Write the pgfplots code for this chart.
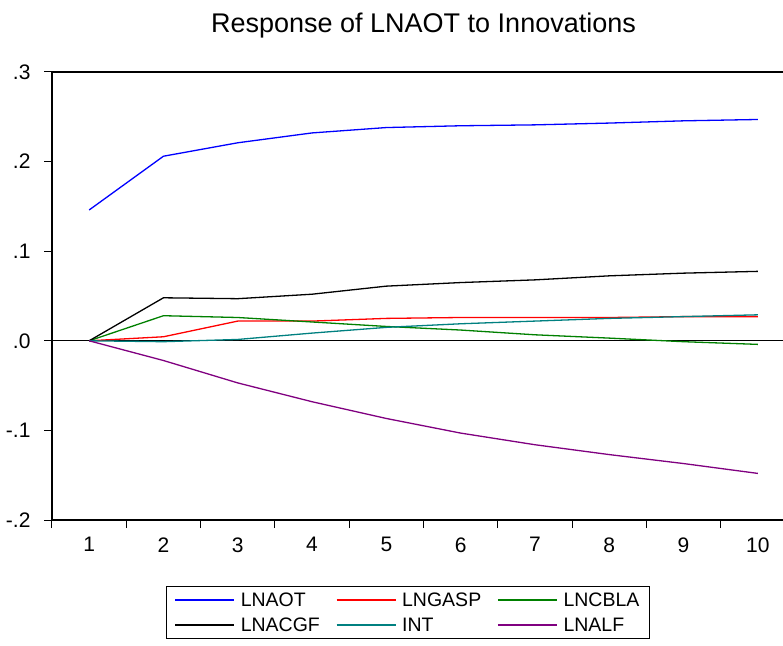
\documentclass[border=0pt]{standalone}
\usepackage{fontspec}
\setmainfont{Liberation Sans}
\usepackage{pgfplots}
\pgfplotsset{compat=1.18}
\definecolor{cblue}{RGB}{0,0,255}
\definecolor{cred}{RGB}{255,0,0}
\definecolor{cgreen}{RGB}{0,128,0}
\definecolor{cteal}{RGB}{0,128,128}
\definecolor{cpurple}{RGB}{128,0,128}
\begin{document}
\begin{tikzpicture}
\useasboundingbox (0,0) rectangle (783bp,646bp);
\clip (0,0) rectangle (783bp,646bp);
\begin{axis}[
  at={(52bp,126bp)}, anchor=south west,
  scale only axis, width=743bp, height=448bp,
  xmin=0.5, xmax=10.5, ymin=-0.2, ymax=0.3,
  axis line style={line width=1.1bp},
  tick align=outside, xtick pos=bottom, ytick pos=left,
  xtick={0.5,1.5,...,10.5}, xticklabels={},
  extra x ticks={1,2,...,10},
  extra x tick labels={1,2,3,4,5,6,7,8,9,10},
  extra x tick style={major tick length=0pt, tick style={draw=none}},
  xticklabel style={yshift=-14bp},
  major tick length=8bp,
  ytick={-0.2,-0.1,0,0.1,0.2,0.3},
  yticklabels={-.2,-.1,.0,.1,.2,.3},
  yticklabel style={xshift=-10bp},
  tick style={line width=1bp, black},
  ticklabel style={font=\fontsize{21bp}{24bp}\selectfont},
  /pgf/number format/assume math mode=true,
  title={Response of LNAOT to Innovations},
  title style={font=\fontsize{27bp}{30bp}\selectfont, yshift=24bp},
  legend columns=3,
  legend cell align=left,
  legend style={at={(0.1534,-0.1473)}, anchor=north west, draw=black, line width=1bp,
    font=\fontsize{19.5bp}{22bp}\selectfont, inner xsep=8bp, inner ysep=4bp,
    row sep=6bp,
    /tikz/every odd column/.append style={column sep=4bp},
    /tikz/every even column/.append style={column sep=14bp}},
  legend image code/.code={\draw[#1, line width=1.3bp] (0bp,0bp) -- (59bp,0bp);},
  every axis plot/.append style={line width=1.3bp},
]
\addplot[black, line width=1bp, forget plot] coordinates {(0.5,0) (10.5,0)};
\addplot[cblue] coordinates {(1,0.146) (2,0.206) (3,0.221) (4,0.232) (5,0.238) (6,0.240) (7,0.241) (8,0.243) (9,0.2455) (10,0.247)};
\addlegendentry{LNAOT}
\addplot[cred] coordinates {(1,0) (2,0.0045) (3,0.022) (4,0.022) (5,0.025) (6,0.026) (7,0.026) (8,0.026) (9,0.027) (10,0.027)};
\addlegendentry{LNGASP}
\addplot[cgreen] coordinates {(1,0) (2,0.028) (3,0.026) (4,0.021) (5,0.016) (6,0.012) (7,0.0067) (8,0.003) (9,-0.001) (10,-0.004)};
\addlegendentry{LNCBLA}
\addplot[black] coordinates {(1,0) (2,0.048) (3,0.047) (4,0.052) (5,0.061) (6,0.065) (7,0.068) (8,0.0725) (9,0.0755) (10,0.0775)};
\addlegendentry{LNACGF}
\addplot[cteal] coordinates {(1,0) (2,-0.001) (3,0.0015) (4,0.0086) (5,0.015) (6,0.019) (7,0.022) (8,0.025) (9,0.027) (10,0.029)};
\addlegendentry{INT}
\addplot[cpurple] coordinates {(1,0) (2,-0.022) (3,-0.047) (4,-0.068) (5,-0.0867) (6,-0.103) (7,-0.116) (8,-0.127) (9,-0.137) (10,-0.148)};
\addlegendentry{LNALF}
\end{axis}
\end{tikzpicture}
\end{document}
